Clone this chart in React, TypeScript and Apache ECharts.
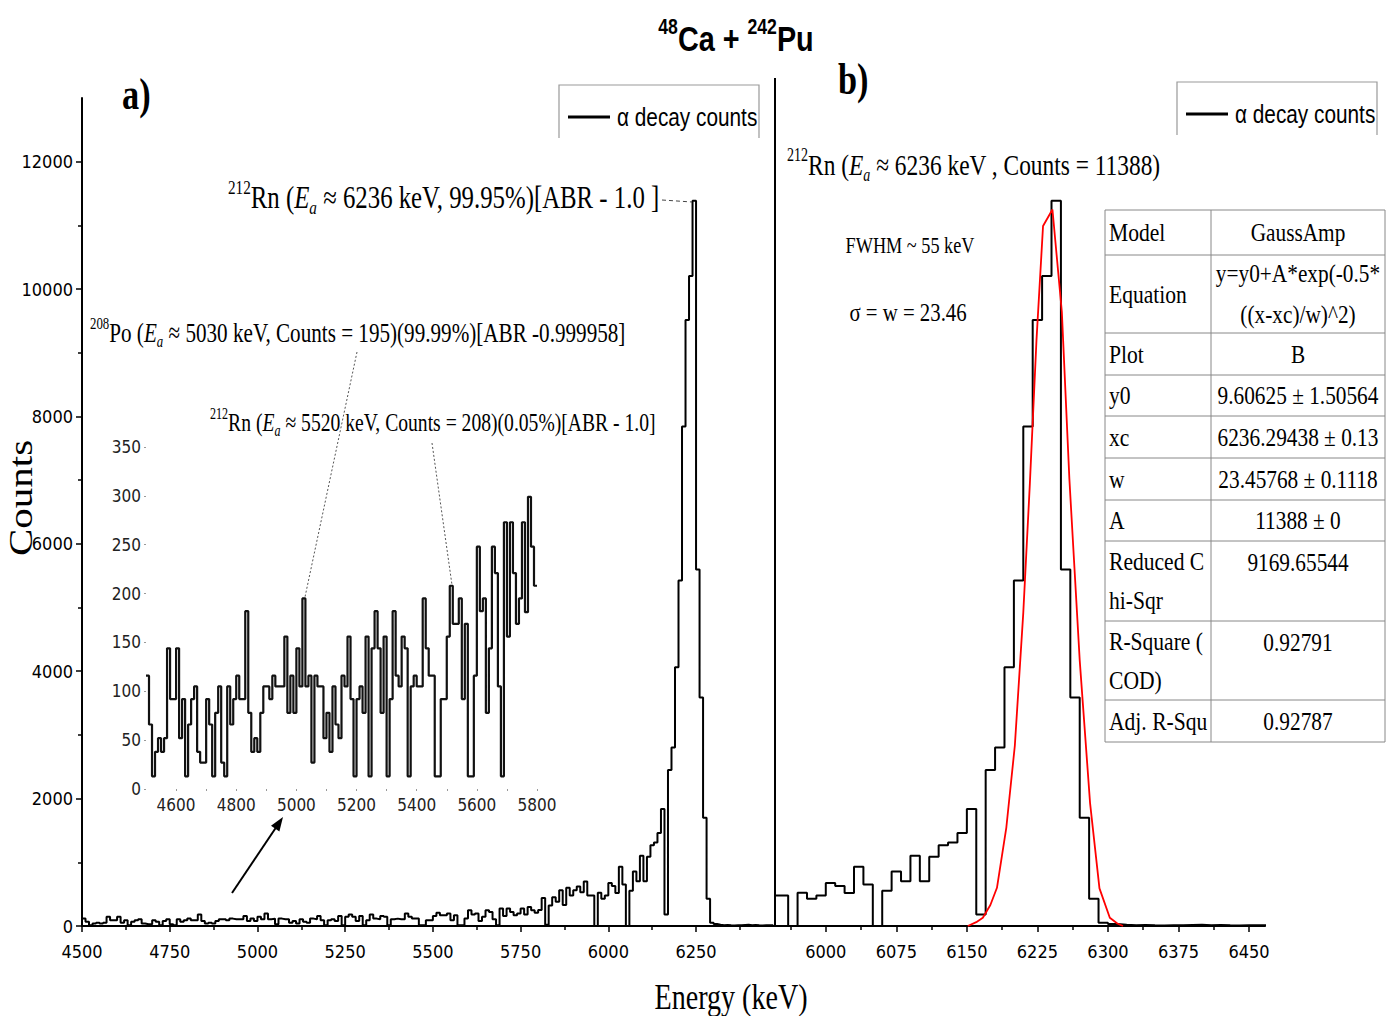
import React, { useEffect, useRef } from "react";
import * as echarts from "echarts";

const SERIF = "'Liberation Serif', 'Times New Roman', serif";
const SANS = "'Liberation Sans', Arial, sans-serif";
const NARROW = "'Liberation Sans Narrow', 'Arial Narrow', 'DejaVu Sans Condensed', 'Liberation Sans', sans-serif";

// Histogram of alpha decay counts: 10 keV bins starting at 4500 keV
const binStartKeV = 4500;
const binWidthKeV = 10;
// 4500–5790 keV (also shown in the inset)
const countsLow = [
  116, 66, 13, 38, 52, 38, 52, 144, 92, 92,
  144, 52, 92, 13, 66, 92, 105, 38, 27, 27,
  92, 66, 13, 78, 105, 27, 13, 105, 66, 92,
  116, 92, 92, 182, 78, 38, 52, 38, 78, 105,
  105, 92, 116, 105, 105, 105, 156, 78, 116, 78,
  144, 105, 195, 105, 116, 27, 116, 105, 105, 52,
  78, 38, 105, 66, 52, 116, 105, 156, 92, 13,
  92, 105, 78, 156, 13, 144, 182, 144, 78, 156,
  13, 92, 182, 116, 105, 156, 144, 13, 105, 116,
  105, 105, 195, 144, 116, 116, 13, 13, 92, 92,
  156, 208, 169, 169, 195, 92, 169, 13, 13, 116,
  248, 182, 195, 78, 144, 248, 221, 105, 13, 273,
  156, 273, 221, 169, 195, 273, 181, 299, 248, 208,
];
// 5800–5940 keV
const countsRise = [250, 440, 20, 320, 450, 380, 560, 330, 600, 480, 560, 620, 530, 700, 480];
// 5950–6290 keV
const countsPeak = [
  479, 0, 524, 427, 479, 674, 629, 517, 929, 652,
  0, 554, 854, 704, 1101, 704, 1086, 1266, 1311, 1461,
  1836, 180, 2450, 2802, 4061, 5424, 7844, 9515, 10204, 11388,
  5597, 3589, 1701, 427, 52,
];
// 6300–6460 keV
const countsTail = [30, 20, 12, 15, 10, 8, 12, 10, 15, 20, 12, 15, 10, 8, 10, 12, 10];

// GaussAmp fit curve
const fitEnergy = [6151, 6160, 6167, 6175, 6182, 6192, 6201, 6210, 6217, 6224, 6231, 6241, 6251, 6259, 6270, 6281, 6291, 6302, 6310, 6316];
const fitCounts = [0, 60, 130, 330, 600, 1550, 2830, 4920, 6950, 9190, 10990, 11250, 9640, 7020, 4170, 1930, 590, 130, 40, 0];

// Axis ticks
const leftMajorTicks = [4500, 4750, 5000, 5250, 5500, 5750, 6000, 6250];
const leftMinorTicks = [4625, 4875, 5125, 5375, 5625, 5875, 6125, 6375];
const rightMajorTicks = [6000, 6075, 6150, 6225, 6300, 6375, 6450];
const rightMinorTicks = [5962.5, 6037.5, 6112.5, 6187.5, 6262.5, 6337.5, 6412.5];
const yMajorTicks = [0, 2000, 4000, 6000, 8000, 10000, 12000];
const yMinorTicks = [1000, 3000, 5000, 7000, 9000, 11000];
const insetXLabels = [4600, 4800, 5000, 5200, 5400, 5600, 5800];
const insetXTicks = [4600, 4700, 4800, 4900, 5000, 5100, 5200, 5300, 5400, 5500, 5600, 5700, 5800];

// Fit table
const tableNames = ["Model", "Equation", "Plot", "y0", "xc", "w", "A", "Reduced C\nhi-Sqr", "R-Square (\nCOD)", "Adj. R-Squ"];
const tableValues = [
  "GaussAmp",
  "y=y0+A*exp(-0.5*\n((x-xc)/w)^2)",
  "B",
  "9.60625 ± 1.50564",
  "6236.29438 ± 0.13",
  "23.45768 ± 0.1118",
  "11388 ± 0",
  "9169.65544",
  "0.92791",
  "0.92787",
];

function richStyles(size: number, family: string, weight: string = "normal") {
  const s = Math.round(size * 0.6);
  const lh = Math.round(size * 1.25);
  return {
    m: { fontSize: size, fontFamily: family, fontWeight: weight, lineHeight: lh },
    i: { fontSize: size, fontFamily: family, fontStyle: "italic", fontWeight: weight, lineHeight: lh },
    sup: { fontSize: s, fontFamily: family, fontWeight: weight, verticalAlign: "top", lineHeight: s },
    sub: { fontSize: s, fontFamily: family, fontStyle: "italic", fontWeight: weight, verticalAlign: "bottom", lineHeight: s },
  };
}

function txt(x: number, y: number, text: string, size: number, o: any = {}) {
  const align = o.align || "left";
  const family = o.family || SERIF;
  const style: any = {
    text,
    fontSize: size,
    fontFamily: family,
    fontWeight: o.weight || "normal",
    fill: "#000",
    align,
    textAlign: align,
    verticalAlign: "middle",
    textVerticalAlign: "middle",
  };
  if (o.lineHeight) style.lineHeight = o.lineHeight;
  if (o.rich) style.rich = richStyles(size, family, o.weight || "normal");
  return { type: "text", x, y, scaleX: o.sx != null ? o.sx : 0.8, style, z: 100 };
}

export default function App() {
  const ref = useRef<HTMLDivElement>(null);

  useEffect(() => {
    if (!ref.current) return;
    const chart = echarts.init(ref.current, undefined, { renderer: "svg" });

    const allCounts = [...countsLow, ...countsRise, ...countsPeak, ...countsTail];
    const histPoints = allCounts.map((c, i) => [binStartKeV + i * binWidthKeV, c]);
    histPoints.push([binStartKeV + allCounts.length * binWidthKeV, allCounts[allCounts.length - 1]]);
    const insetPoints = countsLow.map((c, i) => [binStartKeV + i * binWidthKeV, c]);
    insetPoints.push([binStartKeV + countsLow.length * binWidthKeV, countsLow[countsLow.length - 1]]);
    const fitPoints = fitEnergy.map((e, i) => [e, fitCounts[i]]);

    const fmt = (v: number) => String(v);
    const black = { color: "#000", width: 1.5 };

    const graphic: any[] = [];
    // separator between panels
    graphic.push({ type: "line", shape: { x1: 775, y1: 78, x2: 775, y2: 926 }, style: { stroke: "#000", lineWidth: 2 }, z: 50 });
    // title
    graphic.push(txt(736, 38, "{sup|48}{m|Ca + }{sup|242}{m|Pu}", 36, { family: SANS, weight: "bold", align: "center", rich: true, sx: 0.8 }));
    // panel letters
    graphic.push(txt(122, 95, "a)", 44, { weight: "bold", sx: 0.78 }));
    graphic.push(txt(838, 80, "b)", 44, { weight: "bold", sx: 0.78 }));
    // legends (box open at the bottom as in the figure)
    const legendBox = (x: number, y: number) => [
      { type: "polyline", shape: { points: [[x, y + 53], [x, y], [x + 200, y], [x + 200, y + 53]] }, style: { fill: "none", stroke: "#999", lineWidth: 1.2 }, z: 90 },
      { type: "line", shape: { x1: x + 9, y1: y + 32, x2: x + 51, y2: y + 32 }, style: { stroke: "#000", lineWidth: 3 }, z: 95 },
      txt(x + 58, y + 32, "α decay counts", 26, { family: SANS, sx: 0.8 }),
    ];
    graphic.push(...legendBox(559, 85));
    graphic.push(...legendBox(1177, 82));
    // y axis title
    graphic.push({
      type: "text", x: 21, y: 498, rotation: Math.PI / 2, scaleY: 0.8, z: 100,
      style: { text: "Counts", fontSize: 41, fontFamily: SERIF, fill: "#000", align: "center", textAlign: "center", verticalAlign: "middle", textVerticalAlign: "middle" },
    });
    // annotations, left
    graphic.push(txt(228, 198, "{sup|212}{m|Rn (}{i|E}{sub|a}{m| ≈ 6236 keV, 99.95%)[ABR - 1.0 ]}", 31, { rich: true, sx: 0.8 }));
    graphic.push({ type: "line", shape: { x1: 662, y1: 200, x2: 692, y2: 202 }, style: { stroke: "#444", lineWidth: 1, lineDash: [4, 3] }, z: 60 });
    graphic.push(txt(90, 332, "{sup|208}{m|Po (}{i|E}{sub|a}{m| ≈ 5030 keV, Counts = 195)(99.99%)[ABR -0.999958]}", 28, { rich: true, sx: 0.755 }));
    graphic.push({ type: "line", shape: { x1: 357, y1: 352, x2: 305, y2: 597 }, style: { stroke: "#555", lineWidth: 1, lineDash: [2, 2] }, z: 60 });
    graphic.push(txt(210, 422, "{sup|212}{m|Rn (}{i|E}{sub|a}{m| ≈ 5520 keV, Counts = 208)(0.05%)[ABR - 1.0]}", 26, { rich: true, sx: 0.755 }));
    graphic.push({ type: "line", shape: { x1: 432, y1: 443, x2: 452, y2: 585 }, style: { stroke: "#555", lineWidth: 1, lineDash: [2, 2] }, z: 60 });
    // arrow to inset
    graphic.push({ type: "line", shape: { x1: 232, y1: 893, x2: 277, y2: 826 }, style: { stroke: "#000", lineWidth: 2 }, z: 60 });
    graphic.push({ type: "polygon", shape: { points: [[283, 817], [279.4, 831.4], [271, 825.8]] }, style: { fill: "#000" }, z: 60 });
    // annotations, right
    graphic.push(txt(787, 165, "{sup|212}{m|Rn (}{i|E}{sub|a}{m| ≈ 6236 keV , Counts = 11388)}", 30, { rich: true, sx: 0.78 }));
    graphic.push(txt(910, 245, "FWHM ~ 55 keV", 24, { align: "center", sx: 0.76 }));
    graphic.push(txt(908, 312, "σ = w = 23.46", 26, { align: "center", sx: 0.8 }));
    // axis title (x)
    graphic.push(txt(731, 997, "Energy (keV)", 36, { align: "center", sx: 0.78 }));

    // table
    const tx0 = 1105, tx1 = 1211, tx2 = 1385;
    const rows = [210, 255, 333, 375, 416, 458, 500, 541, 621, 700, 742];
    const lineStyle = { stroke: "#888", lineWidth: 1 };
    rows.forEach((y) => graphic.push({ type: "line", shape: { x1: tx0, y1: y, x2: tx2, y2: y }, style: lineStyle, z: 80 }));
    [tx0, tx1, tx2].forEach((x) => graphic.push({ type: "line", shape: { x1: x, y1: rows[0], x2: x, y2: rows[rows.length - 1] }, style: lineStyle, z: 80 }));
    tableNames.forEach((name, i) => {
      const top = rows[i], bot = rows[i + 1];
      const mid = (top + bot) / 2;
      graphic.push(txt(tx0 + 4, mid, name, 26, { sx: 0.83, lineHeight: 39 }));
      const val = tableValues[i];
      const valY = i === 7 || i === 8 ? top + 21 : mid;
      graphic.push(txt((tx1 + tx2) / 2, valY, val, 26, { align: "center", sx: 0.82, lineHeight: 41 }));
    });

    const xMajor = (grid: number, min: number, max: number, ticks: number[]) => ({
      gridIndex: grid, type: "value", position: "bottom", min, max,
      axisLine: { show: true, onZero: false, lineStyle: { color: "#000", width: 2 } },
      axisTick: { show: true, inside: false, length: 6, customValues: ticks, lineStyle: black },
      axisLabel: { show: true, customValues: ticks, formatter: fmt, fontSize: 18, color: "#000", fontFamily: NARROW, margin: 16 },
      splitLine: { show: false },
    });
    const xMinor = (grid: number, min: number, max: number, ticks: number[]) => ({
      gridIndex: grid, type: "value", position: "bottom", min, max,
      axisLine: { show: false, onZero: false },
      axisTick: { show: true, inside: false, length: 4, customValues: ticks, lineStyle: black },
      axisLabel: { show: false },
      splitLine: { show: false },
    });

    const gridBase = { containLabel: false, outerBoundsMode: "none" };

    const option: any = {
      animation: false,
      backgroundColor: "#fff",
      textStyle: { fontFamily: SANS },
      grid: [
        { ...gridBase, left: 82, top: 98, width: 693, height: 828 },
        { ...gridBase, left: 775, top: 98, width: 490, height: 828 },
        { ...gridBase, left: 146, top: 447, width: 391, height: 342 },
      ],
      xAxis: [
        xMajor(0, 4500, 6475, leftMajorTicks),
        xMinor(0, 4500, 6475, leftMinorTicks),
        xMajor(1, 5946, 6467, rightMajorTicks),
        xMinor(1, 5946, 6467, rightMinorTicks),
        {
          gridIndex: 2, type: "value", position: "bottom", min: 4500, max: 5800,
          axisLine: { show: false, onZero: false },
          axisTick: { show: true, length: 2, customValues: insetXTicks, lineStyle: { color: "#999", width: 1 } },
          axisLabel: { customValues: insetXLabels, formatter: fmt, fontSize: 17, color: "#222", fontFamily: NARROW, margin: 7 },
          splitLine: { show: false },
        },
      ],
      yAxis: [
        {
          gridIndex: 0, type: "value", position: "left", min: 0, max: 13000,
          axisLine: { show: true, onZero: false, lineStyle: { color: "#000", width: 2 } },
          axisTick: { show: true, inside: false, length: 6, customValues: yMajorTicks, lineStyle: black },
          axisLabel: { customValues: yMajorTicks, formatter: fmt, fontSize: 18, color: "#000", fontFamily: NARROW, margin: 9 },
          splitLine: { show: false },
        },
        {
          gridIndex: 0, type: "value", position: "left", min: 0, max: 13000,
          axisLine: { show: false, onZero: false },
          axisTick: { show: true, inside: false, length: 4, customValues: yMinorTicks, lineStyle: black },
          axisLabel: { show: false },
          splitLine: { show: false },
        },
        { gridIndex: 1, type: "value", min: 0, max: 13000, show: false },
        {
          gridIndex: 2, type: "value", position: "left", min: 0, max: 350, interval: 50,
          axisLine: { show: false, onZero: false },
          axisTick: { show: true, length: 2, lineStyle: { color: "#999", width: 1 } },
          axisLabel: { formatter: fmt, fontSize: 17, color: "#222", fontFamily: NARROW, margin: 5 },
          splitLine: { show: false },
        },
      ],
      series: [
        {
          type: "line", name: "α decay counts", xAxisIndex: 0, yAxisIndex: 0, data: histPoints,
          step: "end", symbol: "none", clip: true, lineStyle: { color: "#000", width: 2 }, z: 3,
        },
        {
          type: "line", name: "α decay counts (zoom)", xAxisIndex: 2, yAxisIndex: 2, data: histPoints,
          step: "end", symbol: "none", clip: true, lineStyle: { color: "#000", width: 2 }, z: 3,
        },
        {
          type: "line", name: "GaussAmp fit", xAxisIndex: 2, yAxisIndex: 2, data: fitPoints,
          symbol: "none", clip: true, lineStyle: { color: "#ff0000", width: 1.8 }, z: 4,
        },
        {
          type: "line", name: "inset", xAxisIndex: 4, yAxisIndex: 3, data: insetPoints,
          step: "end", symbol: "none", clip: true, lineStyle: { color: "#111", width: 2.2 }, z: 3,
        },
      ],
      graphic,
    };

    chart.setOption(option);
    return () => chart.dispose();
  }, []);

  return (
    <div
      ref={ref}
      style={{ position: "absolute", left: 0, top: 0, width: 1396, height: 1016, background: "#fff" }}
    />
  );
}
